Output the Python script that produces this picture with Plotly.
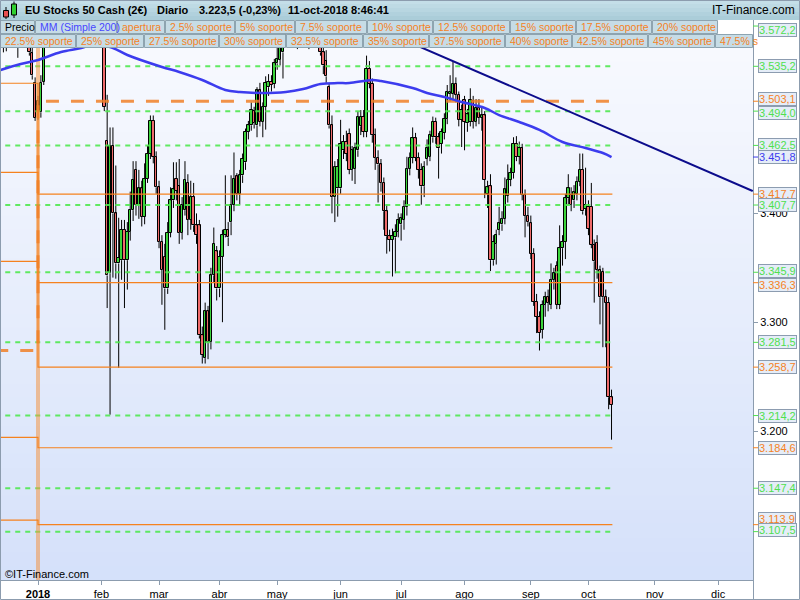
import numpy as np
import pandas as pd
import plotly.graph_objects as go

# ---------------- data ----------------
first_date = "2017-12-11"
market_holidays = ["2017-12-25", "2017-12-26", "2018-01-01", "2018-03-30", "2018-04-02",
                   "2018-05-01", "2018-12-24", "2018-12-25", "2018-12-26", "2018-12-31"]

opens = [3572, 3566, 3558, 3571, 3590, 3598, 3574, 3562, 3567, 3560, 3562, 3547, 3520,
         3503, 3493, 3521, 3580, 3607, 3612, 3624, 3605, 3598, 3614, 3620, 3628, 3618, 3634, 3646, 3650,
         3672, 3646, 3647, 3645, 3632, 3605, 3609, 3580, 3467, 3345, 3462, 3400, 3354, 3357, 3385, 3357,
         3383, 3403, 3440, 3408, 3423, 3397, 3432, 3455, 3485, 3452, 3424, 3374, 3360, 3331, 3382, 3412,
         3432, 3425, 3382, 3403, 3428, 3394, 3415, 3389, 3389, 3288, 3267, 3310, 3282, 3343, 3365, 3331,
         3360, 3380, 3385, 3392, 3408, 3434, 3418, 3435, 3447, 3475, 3481, 3494, 3481, 3513, 3484, 3498,
         3516, 3521, 3519, 3538, 3541, 3548, 3572, 3580, 3575, 3590, 3598, 3585, 3594, 3604, 3590, 3580,
         3588, 3582, 3568, 3548, 3540, 3516, 3481, 3415, 3423, 3423, 3458, 3466, 3473, 3440, 3441, 3458,
         3480, 3489, 3475, 3533, 3519, 3472, 3451, 3445, 3428, 3402, 3379, 3376, 3378, 3383, 3390, 3394,
         3406, 3441, 3451, 3469, 3451, 3440, 3425, 3450, 3452, 3470, 3484, 3470, 3464, 3474, 3487, 3510,
         3510, 3519, 3509, 3486, 3504, 3483, 3484, 3503, 3484, 3497, 3488, 3490, 3418, 3425, 3357, 3372,
         3385, 3390, 3395, 3416, 3431, 3437, 3464, 3452, 3460, 3417, 3398, 3391, 3363, 3319, 3305, 3293,
         3316, 3323, 3316, 3339, 3352, 3316, 3368, 3374, 3414, 3417, 3412, 3418, 3429, 3440, 3404, 3406,
         3406, 3371, 3373, 3348, 3346, 3323, 3318, 3231]
highs = [3580, 3575, 3574, 3592, 3606, 3602, 3580, 3575, 3574, 3566, 3570, 3552, 3525,
         3508, 3527, 3578, 3612, 3620, 3630, 3628, 3610, 3618, 3625, 3640, 3632, 3640, 3655, 3658, 3690,
         3680, 3660, 3662, 3650, 3638, 3625, 3615, 3588, 3509, 3479, 3479, 3444, 3396, 3394, 3394, 3392,
         3420, 3448, 3448, 3440, 3430, 3446, 3462, 3490, 3490, 3457, 3430, 3380, 3372, 3392, 3424, 3447,
         3447, 3450, 3415, 3448, 3436, 3430, 3428, 3400, 3394, 3296, 3318, 3315, 3350, 3387, 3370, 3366,
         3385, 3435, 3392, 3435, 3456, 3437, 3440, 3455, 3478, 3485, 3502, 3498, 3516, 3520, 3502, 3526,
         3528, 3527, 3542, 3552, 3570, 3578, 3590, 3592, 3596, 3605, 3606, 3600, 3612, 3610, 3598, 3596,
         3600, 3590, 3580, 3556, 3550, 3520, 3490, 3448, 3450, 3486, 3472, 3476, 3478, 3462, 3465, 3494,
         3495, 3495, 3545, 3540, 3524, 3478, 3458, 3450, 3433, 3408, 3385, 3386, 3390, 3400, 3400, 3412,
         3452, 3456, 3479, 3474, 3456, 3446, 3448, 3468, 3476, 3489, 3488, 3474, 3478, 3492, 3518, 3527,
         3540, 3525, 3512, 3500, 3508, 3496, 3515, 3508, 3505, 3505, 3498, 3494, 3430, 3436, 3380, 3385,
         3406, 3402, 3433, 3445, 3442, 3470, 3471, 3466, 3464, 3422, 3406, 3398, 3368, 3326, 3310, 3320,
         3328, 3330, 3354, 3350, 3356, 3389, 3380, 3418, 3436, 3424, 3426, 3434, 3455, 3455, 3442, 3412,
         3428, 3376, 3380, 3352, 3350, 3330, 3323, 3238]
lows = [3555, 3548, 3549, 3568, 3580, 3553, 3543, 3556, 3554, 3552, 3545, 3523, 3485,
        3486, 3488, 3518, 3575, 3598, 3604, 3598, 3585, 3592, 3605, 3612, 3605, 3610, 3628, 3636, 3645,
        3640, 3630, 3635, 3625, 3595, 3590, 3575, 3494, 3313, 3215, 3341, 3340, 3258, 3339, 3313, 3330,
        3375, 3393, 3398, 3395, 3388, 3390, 3428, 3450, 3446, 3418, 3368, 3316, 3293, 3326, 3378, 3405,
        3412, 3372, 3376, 3398, 3380, 3385, 3383, 3372, 3285, 3262, 3262, 3266, 3275, 3336, 3320, 3323,
        3300, 3378, 3370, 3380, 3402, 3412, 3408, 3428, 3440, 3468, 3476, 3478, 3470, 3480, 3470, 3477,
        3508, 3512, 3515, 3532, 3536, 3524, 3560, 3558, 3568, 3578, 3551, 3572, 3585, 3580, 3551, 3570,
        3575, 3562, 3545, 3528, 3520, 3478, 3400, 3392, 3397, 3418, 3450, 3448, 3436, 3430, 3427, 3452,
        3472, 3470, 3470, 3515, 3465, 3440, 3410, 3420, 3385, 3363, 3365, 3342, 3345, 3378, 3375, 3385,
        3398, 3435, 3446, 3448, 3432, 3408, 3415, 3444, 3448, 3465, 3464, 3432, 3455, 3468, 3482, 3503,
        3505, 3502, 3480, 3461, 3458, 3475, 3480, 3478, 3480, 3482, 3476, 3414, 3405, 3347, 3352, 3353,
        3380, 3384, 3390, 3410, 3425, 3432, 3448, 3445, 3412, 3378, 3388, 3358, 3315, 3290, 3274, 3285,
        3305, 3310, 3312, 3330, 3312, 3312, 3352, 3358, 3408, 3402, 3405, 3412, 3425, 3399, 3398, 3380,
        3368, 3318, 3340, 3298, 3277, 3277, 3220, 3192]
closes = [3566, 3560, 3571, 3588, 3600, 3575, 3562, 3568, 3560, 3557, 3548, 3527, 3488,
          3493, 3520, 3572, 3607, 3612, 3626, 3607, 3597, 3613, 3620, 3630, 3618, 3632, 3648, 3649, 3672,
          3646, 3647, 3647, 3635, 3605, 3609, 3594, 3498, 3343, 3462, 3400, 3354, 3359, 3385, 3357, 3383,
          3403, 3431, 3408, 3423, 3397, 3432, 3455, 3485, 3452, 3424, 3374, 3348, 3331, 3382, 3412, 3422,
          3421, 3382, 3408, 3431, 3394, 3415, 3389, 3380, 3288, 3270, 3310, 3282, 3343, 3372, 3331, 3360,
          3380, 3385, 3378, 3408, 3432, 3418, 3435, 3450, 3475, 3481, 3495, 3483, 3513, 3484, 3498, 3520,
          3521, 3518, 3538, 3542, 3556, 3572, 3580, 3575, 3590, 3598, 3585, 3594, 3605, 3590, 3580, 3588,
          3582, 3568, 3548, 3536, 3526, 3481, 3415, 3443, 3443, 3464, 3466, 3455, 3440, 3458, 3460, 3489,
          3489, 3475, 3533, 3519, 3472, 3451, 3445, 3428, 3402, 3379, 3376, 3379, 3383, 3394, 3396, 3406,
          3441, 3451, 3469, 3451, 3440, 3425, 3443, 3460, 3472, 3484, 3470, 3460, 3475, 3487, 3512, 3512,
          3519, 3509, 3486, 3495, 3484, 3491, 3504, 3484, 3497, 3488, 3490, 3431, 3424, 3357, 3374, 3380,
          3391, 3395, 3422, 3431, 3437, 3464, 3452, 3460, 3417, 3398, 3392, 3363, 3319, 3305, 3290, 3316,
          3323, 3318, 3339, 3345, 3316, 3368, 3374, 3414, 3423, 3408, 3420, 3429, 3440, 3402, 3408, 3386,
          3371, 3356, 3348, 3323, 3323, 3318, 3231, 3224]

# 200-day simple moving average, read at sample trading-day positions (0 = 2 Jan 2018)
ma_pos = [-13, -6, 0, 8, 15, 20, 26, 31, 43, 49, 57, 65, 70, 78, 86, 92, 98, 104, 108, 116, 119,
          130, 135, 141, 147, 155, 160, 167, 174, 182, 190, 196, 199]
ma_vals = [3531.8, 3537.3, 3541.0, 3548.3, 3552.0, 3556.0, 3552.0, 3545.6, 3534.6, 3530.0, 3522.6,
           3513.4, 3511.6, 3510.7, 3511.6, 3514.3, 3518.9, 3519.8, 3519.8, 3522.6, 3521.7, 3515.3,
           3510.7, 3507.0, 3502.4, 3496.9, 3490.4, 3484.0, 3476.7, 3465.6, 3460.1, 3455.5, 3451.8]

trend_pos = [15, 248]
trend_vals = [3688.0, 3420.5]

open_prev = 3274.0
open_cur = 3503.1
prev_levels = [3519.6, 3437.7, 3355.9, 3194.1, 3118.1]
support_levels = [3417.7, 3336.3, 3258.7, 3184.6, 3113.9]
green_levels = [3572.2, 3535.2, 3494.0, 3462.5, 3407.7, 3345.9, 3281.5, 3214.2, 3147.4, 3107.5]
y_ticks = [3200, 3300, 3400]
month_labels = ["2018", "feb", "mar", "abr", "may", "jun", "jul", "ago", "sep", "oct", "nov", "dic"]

legend_row1 = ["Precio", "MM (Simple 200)", "apertura", "2.5% soporte", "5% soporte", "7.5% soporte",
               "10% soporte", "12.5% soporte", "15% soporte", "17.5% soporte", "20% soporte"]
legend_row2 = ["22.5% soporte", "25% soporte", "27.5% soporte", "30% soporte", "32.5% soporte",
               "35% soporte", "37.5% soporte", "40% soporte", "42.5% soporte", "45% soporte", "47.5% s"]
title_parts = ["EU Stocks 50 Cash (2€)", "Diario", "3.223,5 (-0,23%)", "11-oct-2018 8:46:41"]
brand = "IT-Finance.com"
copyright_txt = "©IT-Finance.com"

# ---------------- styles ----------------
W, H = 800, 600
ML, MR, MT, MB = 1, 47, 20, 20
PW, PH = W - ML - MR, H - MT - MB
FONT = "Liberation Sans, Arial, sans-serif"
GREEN_C = "rgba(80,232,80,0.9)"
GREEN_T = "#4fe04f"
ORANGE = "#f5821f"
BLUE = "#3c3cee"
NAVY = "#0c0c8c"
GRAYLINE = "#8c9cae"


def px(x):
    return (x - ML) / PW


def py(y):
    return (H - MB - y) / PH


def fmt(v, dec=1):
    s = f"{v:,.{dec}f}"
    return s.replace(",", "X").replace(".", ",").replace("X", ".")


# trading calendar -> positions
cal = pd.bdate_range(first_date, "2018-12-31", freq="C", holidays=market_holidays)
first18 = int(np.where(cal >= pd.Timestamp("2018-01-01"))[0][0])
xs = np.arange(len(opens)) - first18
last_x = int(xs[-1])
month_pos = []
for m in range(1, 13):
    idx = int(np.where((cal.year == 2018) & (cal.month == m))[0][0]) - first18
    month_pos.append(idx)

px_per_day = 2.882
x0 = -37 / px_per_day
x1 = x0 + PW / px_per_day
ytop = 3535.2 + 46.3 / 1.088
ybot = ytop - PH / 1.088
left_x = x0 - 2

fig = go.Figure()

# candles: bodies
o = np.array(opens, float); c = np.array(closes, float)
hi = np.array(highs, float); lo = np.array(lows, float)
body_lo = np.minimum(o, c); body_hi = np.maximum(o, c)
colors = ["#3bd43b" if cc >= oo else "#ef6b6b" for oo, cc in zip(o, c)]
fig.add_trace(go.Bar(x=xs, y=np.maximum(body_hi - body_lo, 0.6), base=body_lo, width=0.86,
                     marker=dict(color=colors, line=dict(color="black", width=1)),
                     hoverinfo="skip"))
# wicks
wx, wy = [], []
for xi, h_, l_, bh, bl in zip(xs, hi, lo, body_hi, body_lo):
    wx += [xi, xi, None, xi, xi, None]
    wy += [bh, h_, None, l_, bl, None]
fig.add_trace(go.Scatter(x=wx, y=wy, mode="lines", line=dict(color="black", width=1),
                         hoverinfo="skip"))

# green dashed levels
for lv in green_levels:
    fig.add_trace(go.Scatter(x=[left_x, last_x + 0.3], y=[lv, lv], mode="lines",
                             line=dict(color=GREEN_C, width=2, dash="5px,5px"), hoverinfo="skip"))

# vertical band at year change
fig.add_trace(go.Scatter(x=[0, 0], y=[ybot - 20, ytop + 20], mode="lines",
                         line=dict(color="rgba(242,150,70,0.55)", width=4), hoverinfo="skip"))

# support step lines
for pv, cv in zip(prev_levels, support_levels):
    fig.add_trace(go.Scatter(x=[left_x, 0, last_x + 0.3], y=[pv, cv, cv], mode="lines",
                             line=dict(color=ORANGE, width=1.2, shape="hv"), hoverinfo="skip"))
# apertura
fig.add_trace(go.Scatter(x=[left_x, 0, last_x + 0.3], y=[open_prev, open_cur, open_cur], mode="lines",
                         line=dict(color="rgba(240,128,40,0.85)", width=3, dash="13px,12px", shape="hv"),
                         hoverinfo="skip"))

# MA 200
fig.add_trace(go.Scatter(x=ma_pos, y=ma_vals, mode="lines", line=dict(color=BLUE, width=2.5),
                         hoverinfo="skip", line_shape="spline"))
# trend line
fig.add_trace(go.Scatter(x=trend_pos, y=trend_vals, mode="lines", line=dict(color=NAVY, width=2),
                         hoverinfo="skip"))

shapes = []
annotations = []

# plot-area gradient background
nb = 40
for k in range(nb):
    ya = MT + k * PH / nb
    yb = ya + PH / nb
    t = (k + 0.5) / nb
    r = int(250 + (213 - 250) * t); g = int(251 + (225 - 251) * t); b = int(255 + (250 - 255) * t)
    shapes.append(dict(type="rect", xref="paper", yref="paper", x0=0, x1=1, y0=py(yb), y1=py(ya) + 0.0005,
                       fillcolor=f"rgb({r},{g},{b})", line=dict(width=0), layer="below"))

# header bar gradient
hb = 5
for k in range(hb):
    ya = k * 20 / hb; yb = ya + 20 / hb
    t = (k + 0.5) / hb
    r = int(200 + (168 - 200) * t); g = int(225 + (203 - 225) * t); b = int(234 + (216 - 234) * t)
    shapes.append(dict(type="rect", xref="paper", yref="paper", x0=px(0), x1=px(800), y0=py(yb), y1=py(ya),
                       fillcolor=f"rgb({r},{g},{b})", line=dict(width=0), layer="above"))

# header icon (two small candles)
shapes += [
    dict(type="line", xref="paper", yref="paper", x0=px(6), x1=px(6), y0=py(19), y1=py(7), line=dict(color="black", width=1)),
    dict(type="rect", xref="paper", yref="paper", x0=px(3.5), x1=px(8.5), y0=py(17), y1=py(10.5),
         fillcolor="#e85050", line=dict(color="black", width=1)),
    dict(type="line", xref="paper", yref="paper", x0=px(14), x1=px(14), y0=py(18), y1=py(1.5), line=dict(color="black", width=1)),
    dict(type="rect", xref="paper", yref="paper", x0=px(11.5), x1=px(16.5), y0=py(15), y1=py(4),
         fillcolor="#30d030", line=dict(color="black", width=1)),
]

title_x = [23, 155, 197, 286]
for txt, tx in zip(title_parts, title_x):
    annotations.append(dict(text=f"<b>{txt}</b>", xref="paper", yref="paper", x=px(tx), y=py(10.5),
                            xanchor="left", yanchor="middle", showarrow=False,
                            font=dict(family=FONT, size=11, color="black")))
annotations.append(dict(text=brand, xref="paper", yref="paper", x=px(797), y=py(10.5), xanchor="right",
                        yanchor="middle", showarrow=False, font=dict(family=FONT, size=12, color="black")))

# legend rows
row1_edges = [0, 35, 117, 165, 235, 295, 367, 433, 510, 576, 652, 718]
row2_edges = [0, 76, 144, 219, 286, 363, 429, 505, 572, 648, 715, 753]
row1_cols = ["black", "#4646ff"] + [ORANGE] * (len(legend_row1) - 2)
row2_cols = [ORANGE] * len(legend_row2)
for labels, edges, cols, (ya, yb) in [(legend_row1, row1_edges, row1_cols, (20, 34)),
                                      (legend_row2, row2_edges, row2_cols, (34, 48))]:
    for i, lab in enumerate(labels):
        xa, xb = edges[i], edges[i + 1]
        shapes.append(dict(type="rect", xref="paper", yref="paper", x0=px(xa + 0.5), x1=px(xb - 0.5),
                           y0=py(yb - 0.5), y1=py(ya + 0.5), fillcolor="#c6dce6",
                           line=dict(color="#8ea4b0", width=1), layer="above"))
        annotations.append(dict(text=lab, xref="paper", yref="paper", x=px(xa + 2.5), y=py((ya + yb) / 2 + 0.5),
                                xanchor="left", yanchor="middle", showarrow=False,
                                font=dict(family=FONT, size=10.5, color=cols[i])))
# white empty box at end of row 1
shapes.append(dict(type="rect", xref="paper", yref="paper", x0=px(718.5), x1=px(753), y0=py(34), y1=py(20),
                   fillcolor="white", line=dict(width=0), layer="above"))

# right axis boxed labels
label_specs = [(v, GREEN_T) for v in green_levels] + [(open_cur, ORANGE)] + \
              [(v, ORANGE) for v in support_levels] + [(ma_vals[-1], BLUE)]
shift = {3572.2: -4, 3503.1: 2, 3494.0: -2, 3345.9: 1, 3336.3: -2, 3113.9: 6, 3107.5: 2}
for v, col in sorted(label_specs, key=lambda s: -s[0]):
    ys = shift.get(v, 0)
    shapes.append(dict(type="line", xref="paper", yref="y", x0=1, x1=px(758), y0=v, y1=v,
                       line=dict(color=col, width=1)))
    annotations.append(dict(text=fmt(v), xref="paper", yref="y", x=1, y=v, xshift=5, yshift=ys,
                            xanchor="left", yanchor="middle", showarrow=False,
                            font=dict(family=FONT, size=11, color=col),
                            bgcolor="#e5edf8", bordercolor="#8c9cb0", borderwidth=1, borderpad=0))

annotations.append(dict(text=copyright_txt, xref="paper", yref="paper", x=px(3), y=py(574),
                        xanchor="left", yanchor="middle", showarrow=False,
                        font=dict(family=FONT, size=11, color="black")))

# frame lines
shapes.append(dict(type="line", xref="paper", yref="paper", x0=px(753.5), x1=px(753.5), y0=py(600), y1=py(580),
                   line=dict(color=GRAYLINE, width=1)))
shapes.append(dict(type="rect", xref="paper", yref="paper", x0=px(0.5), x1=px(799.5), y0=py(599.5), y1=py(0.5),
                   line=dict(color=GRAYLINE, width=1), fillcolor="rgba(0,0,0,0)"))

tick_text = [f"<b>{month_labels[0]}</b>"] + month_labels[1:]

fig.update_layout(
    width=W, height=H, margin=dict(l=ML, r=MR, t=MT, b=MB, pad=0),
    paper_bgcolor="white", plot_bgcolor="white", showlegend=False,
    barmode="overlay", bargap=0, hovermode=False,
    font=dict(family=FONT, size=11, color="black"),
    shapes=shapes, annotations=annotations,
    xaxis=dict(range=[x0, x1], showgrid=False, zeroline=False, showline=True, linecolor=GRAYLINE,
               ticks="outside", ticklen=4, tickcolor=GRAYLINE, tickvals=month_pos, ticktext=tick_text,
               tickfont=dict(family=FONT, size=11, color="black"), fixedrange=True),
    yaxis=dict(range=[ybot, ytop], side="right", showgrid=False, zeroline=False, showline=True,
               linecolor=GRAYLINE, ticks="outside", ticklen=4, tickcolor=GRAYLINE,
               tickvals=y_ticks, ticktext=[fmt(v, 0) for v in y_ticks],
               tickfont=dict(family=FONT, size=11, color="black"), fixedrange=True),
)

fig.write_html("out.html", config={"displayModeBar": False},
               post_script="document.body.style.margin='0';document.body.style.overflow='hidden';")
